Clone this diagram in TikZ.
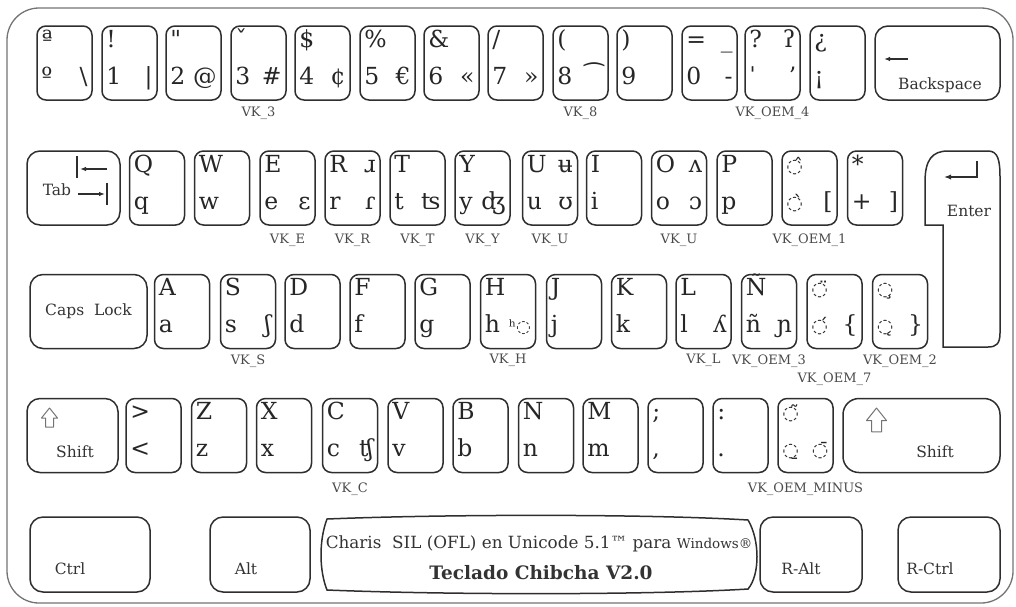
\documentclass[tikz,border=0pt]{standalone}
\usepackage{fontspec}
\setmainfont{DejaVu Serif}
\newfontfamily\symf{DejaVu Sans}
\usetikzlibrary{arrows.meta,positioning,calc}
\definecolor{keyline}{HTML}{2E2E2E}
\definecolor{vkgray}{HTML}{4A4A4A}
\newcommand{\dotc}[1]{{\fontsize{19}{19}\selectfont\symf ◌#1}}

\begin{document}
\begin{tikzpicture}[x=1pt, y=-1pt,
  key/.style={draw=keyline, line width=1.5pt, rounded corners=9pt, minimum width=55pt, minimum height=74pt, inner sep=0pt},
  glyph/.style={font=\fontsize{23.5}{23.5}\selectfont, text=black!85, inner sep=0pt},
  keyname/.style={font=\fontsize{15.5}{15.5}\selectfont, text=black!80, inner sep=0pt},
  vk/.style={font=\fontsize{13}{13}\selectfont, text=vkgray, inner sep=0pt},
  icon/.style={draw=keyline, line width=1.3pt},
  shiftarrow/.style={draw=black!55, line width=1pt, line join=round}
]
  \useasboundingbox (0,0) rectangle (1016,606);
  \draw[black!55, line width=1.3pt, rounded corners=32pt] (7,8) rectangle (1013,603);

  \foreach \n/\x/\y/\a/\b/\c/\d in {
    ord/64.5/63/ª/º/\textbackslash/{}, one/129.5/63/!/1/|/{}, two/193.5/63/\textquotedbl/2/@/{},
    three/258.5/63/ˇ/3/\#/{}, four/322.5/63/\$/4/¢/{}, five/387.5/63/\%/5/€/{},
    six/451.5/63/\&/6/«/{}, seven/515.5/63/{/}/7/»/{}, eight/580.5/63/{(}/8/{\symf ⁀}/{},
    nine/644.5/63/{)}/9/{}/{}, zero/709.5/63/=/0/-/\_, oemfour/772.5/63/?/ˈ/ʼ/ʔ,
    inv/837.5/63/¿/¡/{}/{},
    q/157/188/Q/q/{}/{}, w/222/188/W/w/{}/{}, e/287.5/188/E/e/ɛ/{},
    r/352.5/188/R/r/ɾ/ɹ, t/417.5/188/T/t/ʦ/{}, y/482.5/188/Y/y/ʤ/{},
    u/550/188/U/u/ʊ/ʉ, i/614/188/I/i/{}/{}, o/679/188/O/o/ɔ/ʌ,
    p/744.5/188/P/p/{}/{}, oemone/809.5/188/{\dotc{̂}}/{\dotc{̀}}/{[}/{},
    plus/875/188/*/+/{]}/{},
    a/182/311.5/A/a/{}/{}, s/248/311.5/S/s/ʃ/{}, d/312.5/311.5/D/d/{}/{},
    f/377.5/311.5/F/f/{}/{}, g/442.5/311.5/G/g/{}/{},
    h/508/311.5/H/h/{\fontsize{17}{17}\selectfont ʰ\symf ◌}/{},
    j/574/311.5/J/j/{}/{}, k/639/311.5/K/k/{}/{}, l/703.5/311.5/L/l/ʎ/{},
    ene/769/311.5/Ñ/ñ/ɲ/{}, oemseven/834.5/311.5/{\dotc{̈}}/{\dotc{́}}/\{/{},
    oemtwo/900/311.5/{\dotc{̧}}/{\dotc{̨}}/\}/{},
    lt/153.5/435.5/>/</{}/{}, z/219/435.5/Z/z/{}/{}, x/284/435.5/X/x/{}/{},
    c/350/435.5/C/c/ʧ/{}, v/415.5/435.5/V/v/{}/{}, b/480.5/435.5/B/b/{}/{},
    n/546/435.5/N/n/{}/{}, m/610.5/435.5/M/m/{}/{}, semi/675.5/435.5/;/{,}/{}/{},
    colon/740.5/435.5/:/{.}/{}/{}, oemminus/805.5/435.5/{\dotc{̃}}/{\dotc{̱}}/{\dotc{̄}}/{}
  }{
    \node[key] (k-\n) at (\x,\y) {};
    \node[glyph, anchor=base west] (k-\n-a) at ($(k-\n.north west)+(5,22)$) {\a};
    \node[glyph, anchor=base west] (k-\n-b) at ($(k-\n.north west)+(5,59)$) {\b};
    \node[glyph, anchor=base east] (k-\n-c) at ($(k-\n.north east)+(-5,59)$) {\c};
    \node[glyph, anchor=base east] (k-\n-d) at ($(k-\n.north east)+(-5,22)$) {\d};
  }

  \node[key, minimum width=125pt, rounded corners=13pt] (k-back) at (937.5,63) {};
  \node[keyname, anchor=base] (t-back) at (940,89) {Backspace};
  \draw[icon, -{Latex[length=6pt]}] (908,59) -- (884,59);

  \node[key, minimum width=93pt, rounded corners=13pt] (k-tab) at (73.5,188) {};
  \node[keyname, anchor=base] (t-tab) at (57,195) {Tab};
  \draw[icon] (77,156) -- (77,178);
  \draw[icon, -{Latex[length=6pt]}] (107,169) -- (80,169);
  \draw[icon, -{Latex[length=6pt]}] (78,194) -- (105,194);
  \draw[icon] (107,183) -- (107,205);

  \draw[draw=keyline, line width=1.5pt] (925,182) .. controls (925,160) and (932,151) .. (948,151)
    -- (988,151) .. controls (998,151) and (1000,160) .. (1000,178) -- (1000,333)
    .. controls (1000,344) and (996,347) .. (988,347) -- (943,347) -- (943,225) -- (925,225) -- cycle;
  \node[keyname, anchor=base] (t-enter) at (969,216) {Enter};
  \draw[icon, -{Latex[length=7pt]}] (977,161) -- (977,177) -- (944,177);

  \node[key, minimum width=117pt, rounded corners=13pt] (k-caps) at (88.5,311.5) {};
  \node[keyname] (t-caps) at (k-caps) {Caps\ \ Lock};

  \node[key, minimum width=91pt, rounded corners=13pt] (k-lshift) at (72.5,435.5) {};
  \node[keyname, anchor=base] (t-lshift) at (75,457) {Shift};
  \node[key, minimum width=157pt, rounded corners=16pt] (k-rshift) at (921.5,435.5) {};
  \node[keyname, anchor=base] (t-rshift) at (935,457) {Shift};
  \foreach \cx/\s in {49.5/1, 876.5/1.25}
    \draw[shiftarrow, shift={(\cx,408)}, scale=\s] (0,0) -- (8,10) -- (4,10) -- (4,19) -- (-4,19) -- (-4,10) -- (-8,10) -- cycle;

  \node[key, minimum width=120pt, minimum height=75pt, rounded corners=13pt] (k-ctrl) at (90,554.5) {};
  \node[keyname, anchor=base] (t-ctrl) at (70,574) {Ctrl};
  \node[key, minimum width=100pt, minimum height=75pt, rounded corners=13pt] (k-alt) at (260,554.5) {};
  \node[keyname, anchor=base] (t-alt) at (246,574) {Alt};
  \node[key, minimum width=102pt, minimum height=75pt, rounded corners=13pt] (k-ralt) at (811,554.5) {};
  \node[keyname, anchor=base] (t-ralt) at (801,574) {R-Alt};
  \node[key, minimum width=102pt, minimum height=75pt, rounded corners=13pt] (k-rctrl) at (949,554.5) {};
  \node[keyname, anchor=base] (t-rctrl) at (930,574) {R-Ctrl};

  \draw[draw=keyline, line width=1.5pt] (327,519) .. controls (450,514) and (650,514) .. (748,520)
    .. controls (760,540) and (760,575) .. (748,589) .. controls (650,595) and (450,595) .. (327,590)
    .. controls (319,570) and (319,540) .. (327,519) -- cycle;
  \node[keyname, anchor=base, font=\fontsize{16.8}{16.8}\selectfont] (t-space) at (539,548) {Charis\ \ SIL (OFL) en Unicode 5.1™ para {\fontsize{13.5}{13.5}\selectfont Windows®}};
  \node[keyname, anchor=base, font=\fontsize{18.5}{18.5}\selectfont\bfseries] (t-name) at (541,579) {Teclado Chibcha V2.0};

  \node[vk, below=6pt of k-three] (vk-three) {VK\_3};
  \node[vk, below=6pt of k-eight] (vk-eight) {VK\_8};
  \node[vk, below=6pt of k-oemfour] (vk-oemfour) {VK\_OEM\_4};
  \node[vk, below=8pt of k-e] (vk-e) {VK\_E};
  \node[vk, below=8pt of k-r] (vk-r) {VK\_R};
  \node[vk, below=8pt of k-t] (vk-t) {VK\_T};
  \node[vk, below=8pt of k-y] (vk-y) {VK\_Y};
  \node[vk, below=8pt of k-u] (vk-u) {VK\_U};
  \node[vk, below=8pt of k-o] (vk-o) {VK\_U};
  \node[vk, below=8pt of k-oemone] (vk-oemone) {VK\_OEM\_1};
  \node[vk, below=5pt of k-s] (vk-s) {VK\_S};
  \node[vk, below=5pt of k-h] (vk-h) {VK\_H};
  \node[vk, below=5pt of k-l] (vk-l) {VK\_L};
  \node[vk, below=5pt of k-ene] (vk-ene) {VK\_OEM\_3};
  \node[vk, below=23pt of k-oemseven] (vk-oemseven) {VK\_OEM\_7};
  \node[vk, below=5pt of k-oemtwo] (vk-oemtwo) {VK\_OEM\_2};
  \node[vk, below=9pt of k-c] (vk-c) {VK\_C};
  \node[vk, below=9pt of k-oemminus] (vk-oemminus) {VK\_OEM\_MINUS};
\end{tikzpicture}
\end{document}
